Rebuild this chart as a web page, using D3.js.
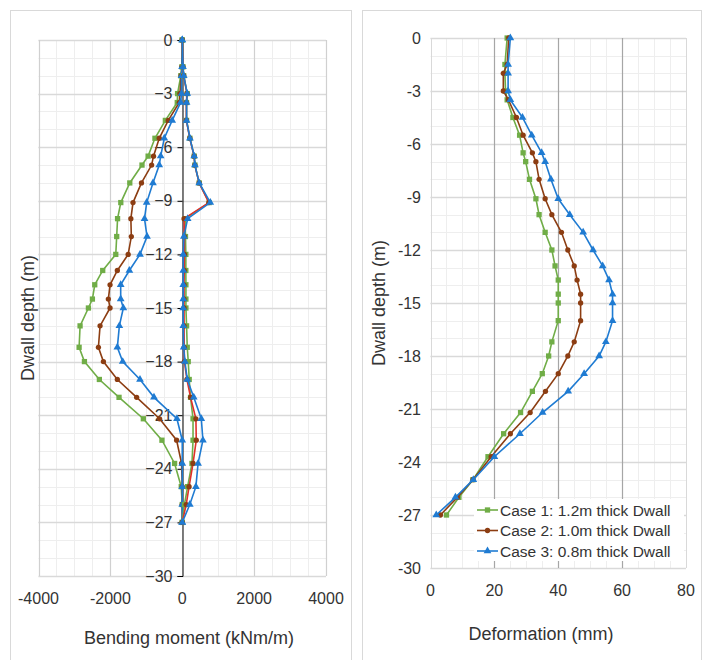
<!DOCTYPE html>
<meta charset="utf-8">
<title>Dwall bending moment and deformation</title>
<script src="https://cdnjs.cloudflare.com/ajax/libs/d3/7.8.5/d3.min.js"></script>
<style>
  body { margin: 0; background: #fff; }
  svg text { font-family: "Liberation Sans", Arial, sans-serif; fill: #333; }
</style>
<body>
<svg width="708" height="660"></svg>
<script>
  // depths (m) shared by all series
  var depth = [0, -1.5, -2, -3, -3.5, -4.5, -5.5, -6.5, -7, -8, -9.1, -10, -11, -12, -12.9, -13.7, -14.5, -15, -16, -17.2, -18, -19, -20, -21.2, -22.4, -23.7, -25, -26, -27];

  var caseNames = ["Case 1: 1.2m thick Dwall", "Case 2: 1.0m thick Dwall", "Case 3: 0.8m thick Dwall"];

  // bending moment, min envelope (kNm/m)
  var momentMin1 = [0, -10, -40, -130, -139, -470, -760, -950, -1120, -1460, -1710, -1800, -1824, -1850, -2213, -2435, -2500, -2611, -2843, -2870, -2722, -2306, -1759, -1083, -565, -213, -28, 0, 0];
  var momentMin2 = [0, -10, -30, -65, -83, -389, -640, -800, -852, -1135, -1370, -1430, -1417, -1505, -1806, -2009, -2056, -2009, -2287, -2333, -2194, -1806, -1269, -630, -157, -19, 0, 0, 0];
  var momentMin3 = [0, -5, -20, -20, -46, -280, -500, -600, -640, -815, -990, -1050, -980, -1176, -1472, -1713, -1713, -1639, -1750, -1806, -1657, -1176, -787, -148, 0, 0, 0, 0, 0];

  // bending moment, max envelope (kNm/m)
  var momentMax1 = [0, 20, 40, 139, 120, 120, 213, 333, 352, 472, 750, 80, 90, 100, 100, 102, 102, 102, 120, 139, 167, 194, 231, 300, 300, 270, 150, 60, 0];
  var momentMax2 = [0, 20, 40, 130, 115, 115, 210, 330, 350, 470, 740, 50, 60, 60, 55, 50, 50, 50, 50, 55, 60, 130, 231, 380, 390, 300, 190, 110, 0];
  var momentMax3 = [0, 20, 40, 139, 120, 120, 213, 333, 352, 472, 780, 150, 46, 28, 28, 28, 28, 25, 28, 40, 74, 140, 320, 530, 575, 440, 380, 210, 0];

  // wall deformation (mm)
  var deform1 = [24, 23.3, 23.3, 23.5, 24, 25.8, 27.9, 29, 29.8, 31, 33, 34, 35.9, 38, 39, 40, 40, 40, 40, 38, 37, 35, 31.9, 28.2, 22.9, 18, 13.3, 8.9, 5];
  var deform2 = [24.5, 24, 22.8, 22.8, 24.4, 26.9, 29, 31.9, 33, 34, 35.9, 38, 41, 43, 45, 45.9, 47, 47, 47, 45, 43, 40, 36, 31.2, 25, 19, 13.3, 8.4, 3.1];
  var deform3 = [25, 24.3, 24.3, 24.3, 25, 28.8, 31.7, 34.8, 35.9, 37.7, 40, 43.6, 47.8, 50.9, 53.9, 55.9, 57, 57, 57, 54.9, 52.8, 48.1, 43.1, 35.1, 28, 20, 13.4, 7.8, 1.8];

  var depthTicks = d3.range(0, -31, -3);
  var momentTicks = [-4000, -2000, 0, 2000, 4000];
  var deformTicks = [0, 20, 40, 60, 80];

  var green = "#70ad47", brown = "#8c3d12", blue = "#1f7bd2", red = "#e0302a";
  var symbols = [d3.symbolSquare, d3.symbolCircle, d3.symbolTriangle];
  var symSize = [28, 22, 26];

  var svg = d3.select("svg");

  // panel frames
  svg.append("rect").attr("x", 10.5).attr("y", 10.5).attr("width", 341).attr("height", 660)
    .attr("fill", "none").attr("stroke", "#d9d9d9");
  svg.append("rect").attr("x", 362.5).attr("y", 10.5).attr("width", 339).attr("height", 660)
    .attr("fill", "none").attr("stroke", "#d9d9d9");

  function grid(g, x, y, xMinor, xMajor, yMinor, majorColor) {
    var x0 = x.range()[0], x1 = x.range()[1], y0 = y.range()[1], y1 = y.range()[0];
    g.selectAll(".vmin").data(xMinor).enter().append("line")
      .attr("x1", function (d) { return Math.round(x(d)) + 0.5; })
      .attr("x2", function (d) { return Math.round(x(d)) + 0.5; })
      .attr("y1", y0).attr("y2", y1).attr("stroke", "#eeeeee");
    g.selectAll(".hmin").data(yMinor).enter().append("line")
      .attr("y1", function (d) { return Math.round(y(d)) + 0.5; })
      .attr("y2", function (d) { return Math.round(y(d)) + 0.5; })
      .attr("x1", x0).attr("x2", x1).attr("stroke", "#eeeeee");
    g.selectAll(".hmaj").data(depthTicks).enter().append("line")
      .attr("y1", function (d) { return Math.round(y(d)) + 0.5; })
      .attr("y2", function (d) { return Math.round(y(d)) + 0.5; })
      .attr("x1", x0).attr("x2", x1).attr("stroke", "#d9d9d9").attr("stroke-width", 1.3);
    g.selectAll(".vmaj").data(xMajor).enter().append("line")
      .attr("x1", function (d) { return Math.round(x(d)) + 0.5; })
      .attr("x2", function (d) { return Math.round(x(d)) + 0.5; })
      .attr("y1", y0).attr("y2", y1).attr("stroke", majorColor).attr("stroke-width", 1.2);
  }

  function series(g, x, y, values, lineColor, markColor, k) {
    var pts = values.map(function (v, i) { return [v, depth[i]]; });
    var line = d3.line().x(function (d) { return x(d[0]); }).y(function (d) { return y(d[1]); });
    g.append("path").datum(pts).attr("d", line)
      .attr("fill", "none").attr("stroke", lineColor).attr("stroke-width", 1.6);
    g.selectAll(null).data(pts).enter().append("path")
      .attr("d", d3.symbol().type(symbols[k]).size(symSize[k]))
      .attr("transform", function (d) { return "translate(" + x(d[0]) + "," + y(d[1]) + ")"; })
      .attr("fill", markColor);
  }

  // ---------- left chart: bending moment ----------
  var xM = d3.scaleLinear().domain([-4000, 4000]).range([38.5, 326]);
  var yM = d3.scaleLinear().domain([-30, 0]).range([576, 40]);
  var gL = svg.append("g");

  grid(gL, xM, yM, d3.range(-4000, 4001, 500), [-4000, -2000, 2000, 4000], d3.range(0, -31, -1), "#d0d0d0");

  // vertical axis through zero
  var yAxisL = gL.append("g").attr("transform", "translate(" + (Math.round(xM(0)) + 0.5) + ",0)")
    .call(d3.axisLeft(yM).tickValues(depthTicks).tickSize(5).tickPadding(5).tickFormat(d3.format("d")));
  yAxisL.select(".domain").attr("stroke", "#000");
  yAxisL.selectAll(".tick line").attr("stroke", "#000");
  yAxisL.selectAll("text").attr("font-size", 16).attr("fill", "#333")
    .attr("font-family", "Liberation Sans, Arial, sans-serif");

  gL.selectAll(".xl").data(momentTicks).enter().append("text")
    .attr("x", function (d) { return xM(d); }).attr("y", 604)
    .attr("text-anchor", "middle").attr("font-size", 16)
    .text(function (d) { return d; });

  series(gL, xM, yM, momentMin1, green, green, 0);
  series(gL, xM, yM, momentMin2, brown, brown, 1);
  series(gL, xM, yM, momentMin3, blue, blue, 2);
  series(gL, xM, yM, momentMax1, green, green, 0);
  series(gL, xM, yM, momentMax2, red, brown, 1);
  series(gL, xM, yM, momentMax3, blue, blue, 2);

  gL.append("text").attr("x", 189).attr("y", 644).attr("text-anchor", "middle")
    .attr("font-size", 18).text("Bending moment (kNm/m)");
  gL.append("text").attr("transform", "translate(34,318) rotate(-90)").attr("text-anchor", "middle")
    .attr("font-size", 18).text("Dwall depth (m)");

  // ---------- right chart: deformation ----------
  var xD = d3.scaleLinear().domain([0, 80]).range([430.5, 686]);
  var yD = d3.scaleLinear().domain([-30, 0]).range([568, 38]);
  var gR = svg.append("g");

  grid(gR, xD, yD, d3.range(0, 81, 5), [20, 40, 60], d3.range(0, -31, -1), "#a6a6a6");
  gR.selectAll(".edge").data([0, 80]).enter().append("line")
    .attr("x1", function (d) { return Math.round(xD(d)) + 0.5; })
    .attr("x2", function (d) { return Math.round(xD(d)) + 0.5; })
    .attr("y1", 38).attr("y2", 568).attr("stroke", "#d9d9d9");

  gR.selectAll(".yl").data(depthTicks).enter().append("text")
    .attr("x", 421).attr("y", function (d) { return yD(d); }).attr("dy", "0.35em")
    .attr("text-anchor", "end").attr("font-size", 16)
    .text(function (d) { return d; });
  gR.selectAll(".xl").data(deformTicks).enter().append("text")
    .attr("x", function (d) { return xD(d); }).attr("y", 596)
    .attr("text-anchor", "middle").attr("font-size", 16)
    .text(function (d) { return d; });

  series(gR, xD, yD, deform1, green, green, 0);
  series(gR, xD, yD, deform2, brown, brown, 1);
  series(gR, xD, yD, deform3, blue, blue, 2);

  gR.append("text").attr("x", 541).attr("y", 640).attr("text-anchor", "middle")
    .attr("font-size", 18).text("Deformation (mm)");
  gR.append("text").attr("transform", "translate(385,303) rotate(-90)").attr("text-anchor", "middle")
    .attr("font-size", 18).text("Dwall depth (m)");

  // legend
  var lg = gR.append("g");
  lg.append("rect").attr("x", 474).attr("y", 499).attr("width", 210).attr("height", 62).attr("fill", "#fff");
  var colors = [green, brown, blue];
  caseNames.forEach(function (name, i) {
    var ly = 510 + i * 20.5;
    lg.append("line").attr("x1", 477).attr("x2", 498).attr("y1", ly).attr("y2", ly)
      .attr("stroke", colors[i]).attr("stroke-width", 1.6);
    lg.append("path").attr("d", d3.symbol().type(symbols[i]).size(symSize[i]))
      .attr("transform", "translate(487.5," + ly + ")").attr("fill", colors[i]);
    lg.append("text").attr("x", 500).attr("y", ly).attr("dy", "0.36em")
      .attr("font-size", 15.5).text(name);
  });
</script>
</body>
